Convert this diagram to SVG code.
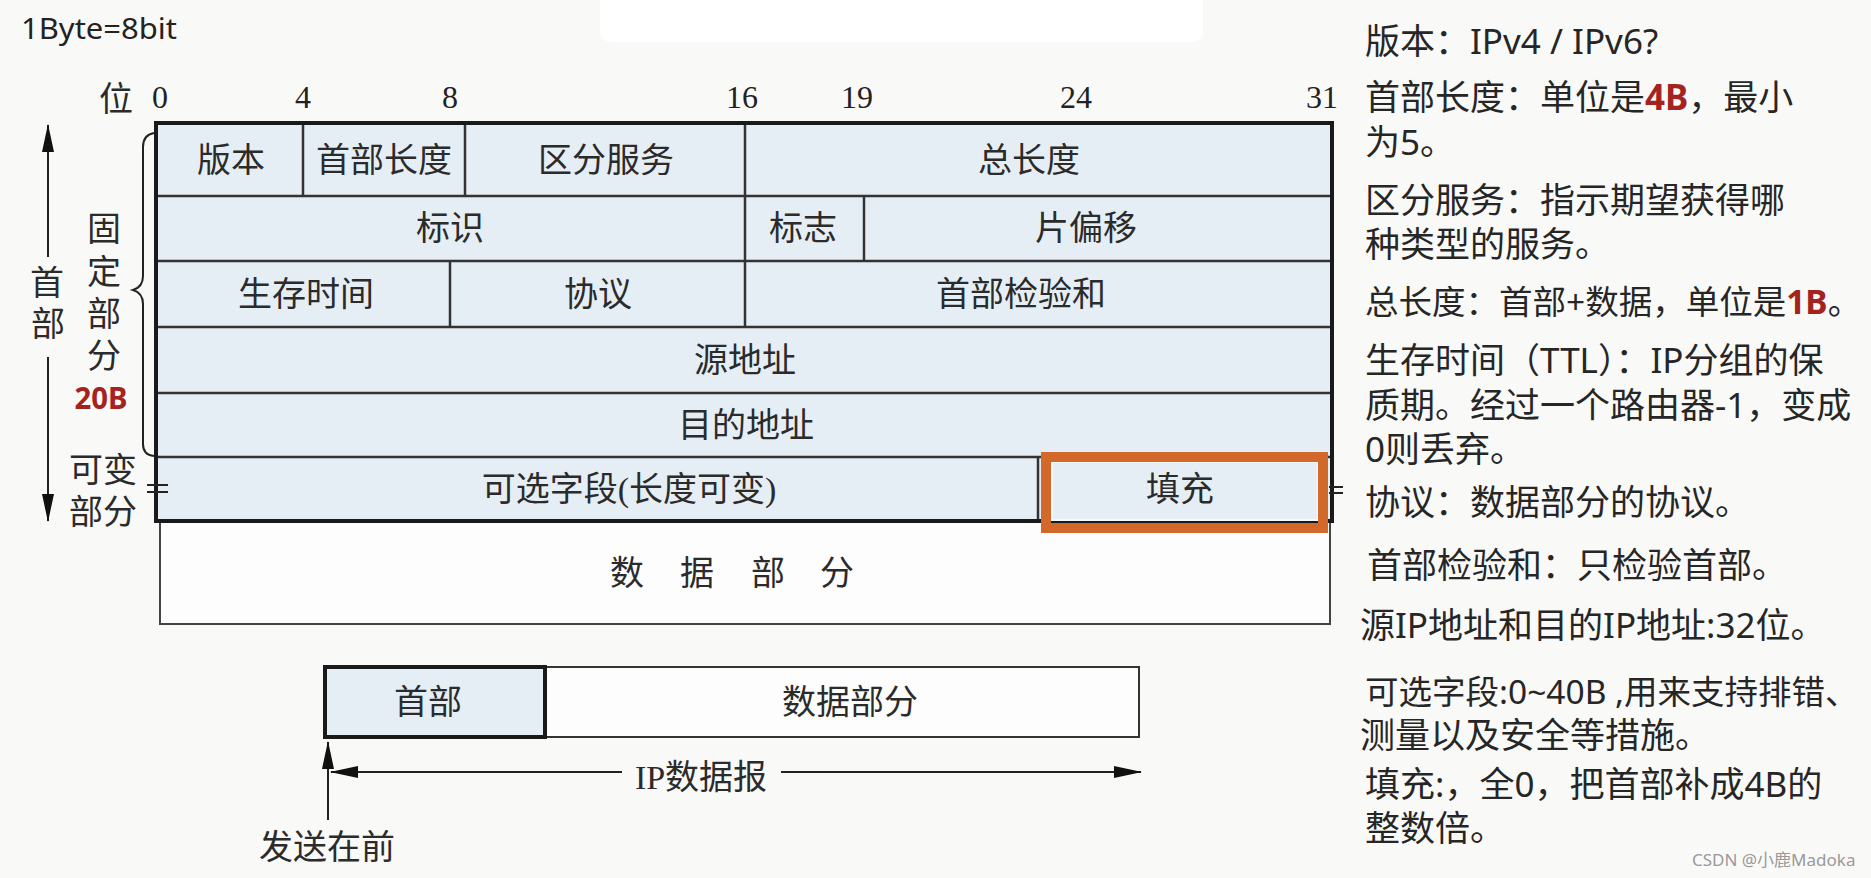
<svg xmlns="http://www.w3.org/2000/svg" width="1871" height="878" viewBox="0 0 1871 878">
<style>
.cell{font-family:"Liberation Serif","Noto Sans CJK SC",serif;font-size:34px;fill:#2b2b2b;text-anchor:middle}
.num{font-family:"Liberation Serif",serif;font-size:32px;fill:#222;text-anchor:middle}
.note{font-family:"Noto Sans","Noto Sans CJK SC",sans-serif;font-size:35px;fill:#262626}
.red{fill:#A4231F;font-weight:bold}
.ln{stroke:#333;stroke-width:2.5;fill:none}
.thin{stroke:#222;stroke-width:2;fill:none}
.hdr{fill:#E6EEF5}
</style>
<defs>
<marker id="arr" markerUnits="userSpaceOnUse" markerWidth="28" markerHeight="12" viewBox="0 0 28 12" refX="27" refY="6" orient="auto">
<path d="M0,0 L28,6 L0,12 Z" fill="#111"/>
</marker>
</defs>
<rect x="0" y="0" width="1871" height="878" fill="#F9F9F8"/>
<rect x="600" y="-10" width="603" height="52" rx="10" fill="#FFFFFF"/>

<g id="title">
<text x="21" y="39" style="font-family:'Noto Sans',sans-serif;font-size:29px;fill:#222" textLength="156" lengthAdjust="spacingAndGlyphs">1Byte=8bit</text>
</g>

<g id="bit-scale">
<text class="cell" x="116" y="111">位</text>
<text class="num" x="160" y="108">0</text>
<text class="num" x="303" y="108">4</text>
<text class="num" x="450" y="108">8</text>
<text class="num" x="742" y="108">16</text>
<text class="num" x="857" y="108">19</text>
<text class="num" x="1076" y="108">24</text>
<text class="num" x="1322" y="108">31</text>
</g>

<g id="data-part">
<rect x="160" y="521" width="1170" height="103" fill="#FDFDFD" stroke="#444" stroke-width="2"/>
<text class="cell" x="627" y="585">数</text>
<text class="cell" x="697" y="585">据</text>
<text class="cell" x="768" y="585">部</text>
<text class="cell" x="837" y="585">分</text>
</g>

<g id="header">
<rect class="hdr" x="156" y="123" width="1176" height="398"/>
<g id="grid">
<line class="ln" x1="156" y1="196" x2="1332" y2="196"/>
<line class="ln" x1="156" y1="261" x2="1332" y2="261"/>
<line class="ln" x1="156" y1="327" x2="1332" y2="327"/>
<line class="ln" x1="156" y1="393" x2="1332" y2="393"/>
<line class="ln" x1="156" y1="457" x2="1332" y2="457"/>
<line class="ln" x1="303" y1="123" x2="303" y2="196"/>
<line class="ln" x1="465" y1="123" x2="465" y2="196"/>
<line class="ln" x1="745" y1="123" x2="745" y2="327"/>
<line class="ln" x1="864" y1="196" x2="864" y2="261"/>
<line class="ln" x1="450" y1="261" x2="450" y2="327"/>
<line class="ln" x1="1038" y1="457" x2="1038" y2="521"/>
</g>
<rect x="156" y="123" width="1176" height="398" fill="none" stroke="#1a1a1a" stroke-width="4"/>
</g>

<g id="f-version"><text class="cell" x="231" y="172">版本</text></g>
<g id="f-ihl"><text class="cell" x="384" y="172">首部长度</text></g>
<g id="f-ds"><text class="cell" x="606" y="172">区分服务</text></g>
<g id="f-total"><text class="cell" x="1029" y="172">总长度</text></g>
<g id="f-id"><text class="cell" x="450" y="240">标识</text></g>
<g id="f-flags"><text class="cell" x="803" y="240">标志</text></g>
<g id="f-offset"><text class="cell" x="1086" y="240">片偏移</text></g>
<g id="f-ttl"><text class="cell" x="306" y="306">生存时间</text></g>
<g id="f-proto"><text class="cell" x="598" y="306">协议</text></g>
<g id="f-checksum"><text class="cell" x="1021" y="306">首部检验和</text></g>
<g id="f-src"><text class="cell" x="745" y="372">源地址</text></g>
<g id="f-dst"><text class="cell" x="746" y="437">目的地址</text></g>
<g id="f-options"><text class="cell" x="629" y="501">可选字段(长度可变)</text></g>
<g id="f-padding">
<rect x="1052" y="462" width="266" height="58" fill="none" stroke="#F7FAFC" stroke-width="2"/>
<text class="cell" x="1180" y="501">填充</text>
<rect x="1046" y="457" width="277" height="71" fill="none" stroke="#D2682A" stroke-width="10"/>
</g>

<g id="break-marks">
<line class="thin" x1="147" y1="485" x2="168" y2="485"/>
<line class="thin" x1="147" y1="492" x2="168" y2="492"/>
<line class="thin" x1="1329" y1="487" x2="1343" y2="487"/>
<line class="thin" x1="1329" y1="493" x2="1343" y2="493"/>
</g>

<g id="fixed-label">
<path class="thin" d="M154,133 Q143,135 143,147 L143,276 Q143,287 133,290 Q143,293 143,304 L143,444 Q143,455 154,456"/>
<text class="cell" x="104" y="241">固</text>
<text class="cell" x="104" y="284">定</text>
<text class="cell" x="104" y="326">部</text>
<text class="cell" x="104" y="368">分</text>
<text x="101" y="409" style="font-family:'Noto Sans',sans-serif;font-size:31px;text-anchor:middle" class="red" textLength="53" lengthAdjust="spacingAndGlyphs">20B</text>
</g>

<g id="variable-label">
<text class="cell" x="103" y="482">可变</text>
<text class="cell" x="103" y="524">部分</text>
</g>

<g id="header-label">
<text class="cell" x="47" y="295">首</text>
<text class="cell" x="48" y="336">部</text>
</g>

<g id="datagram-header">
<rect x="545" y="667" width="594" height="70" fill="#FDFDFD" stroke="#333" stroke-width="2"/>
<rect class="hdr" x="325" y="667" width="220" height="70" stroke="#1a1a1a" stroke-width="4"/>
<text class="cell" x="428" y="714">首部</text>
</g>
<g id="datagram-data">
<text class="cell" x="850" y="714">数据部分</text>
</g>
<g id="datagram-label">
<text class="cell" x="701" y="789">IP数据报</text>
</g>
<g id="send-first">
<text class="cell" x="327" y="859">发送在前</text>
</g>

<g id="connectors">
<line class="thin" x1="48" y1="257" x2="48" y2="125" marker-end="url(#arr)"/>
<line class="thin" x1="48" y1="357" x2="48" y2="521" marker-end="url(#arr)"/>
<line class="thin" x1="622" y1="772" x2="331" y2="772" marker-end="url(#arr)"/>
<line class="thin" x1="781" y1="772" x2="1141" y2="772" marker-end="url(#arr)"/>
<line class="thin" x1="328" y1="820" x2="328" y2="742" marker-end="url(#arr)"/>
</g>

<g id="notes">
<text class="note" x="1365" y="54">版本：IPv4 / IPv6?</text>
<text class="note" x="1365" y="110">首部长度：单位是<tspan class="red">4B</tspan>，最小</text>
<text class="note" x="1365" y="155">为5。</text>
<text class="note" x="1365" y="213">区分服务：指示期望获得哪</text>
<text class="note" x="1365" y="257">种类型的服务。</text>
<text class="note" x="1365" y="314" style="font-size:33.5px">总长度：首部+数据，单位是<tspan class="red">1B</tspan>。</text>
<text class="note" x="1365" y="373">生存时间（TTL）：IP分组的保</text>
<text class="note" x="1365" y="418">质期。经过一个路由器-1，变成</text>
<text class="note" x="1365" y="462">0则丢弃。</text>
<text class="note" x="1365" y="515">协议：数据部分的协议。</text>
<text class="note" x="1367" y="578">首部检验和：只检验首部。</text>
<text class="note" x="1360" y="638">源IP地址和目的IP地址:32位。</text>
<text class="note" x="1365" y="704" style="font-size:33.5px">可选字段:0~40B ,用来支持排错、</text>
<text class="note" x="1360" y="748">测量以及安全等措施。</text>
<text class="note" x="1365" y="797">填充:，全0，把首部补成4B的</text>
<text class="note" x="1365" y="841">整数倍。</text>
<text x="1692" y="866" style="font-family:'Noto Sans','Noto Sans CJK SC',sans-serif;font-size:17px;fill:#9a9a9a">CSDN @小鹿Madoka</text>
</g>
</svg>
